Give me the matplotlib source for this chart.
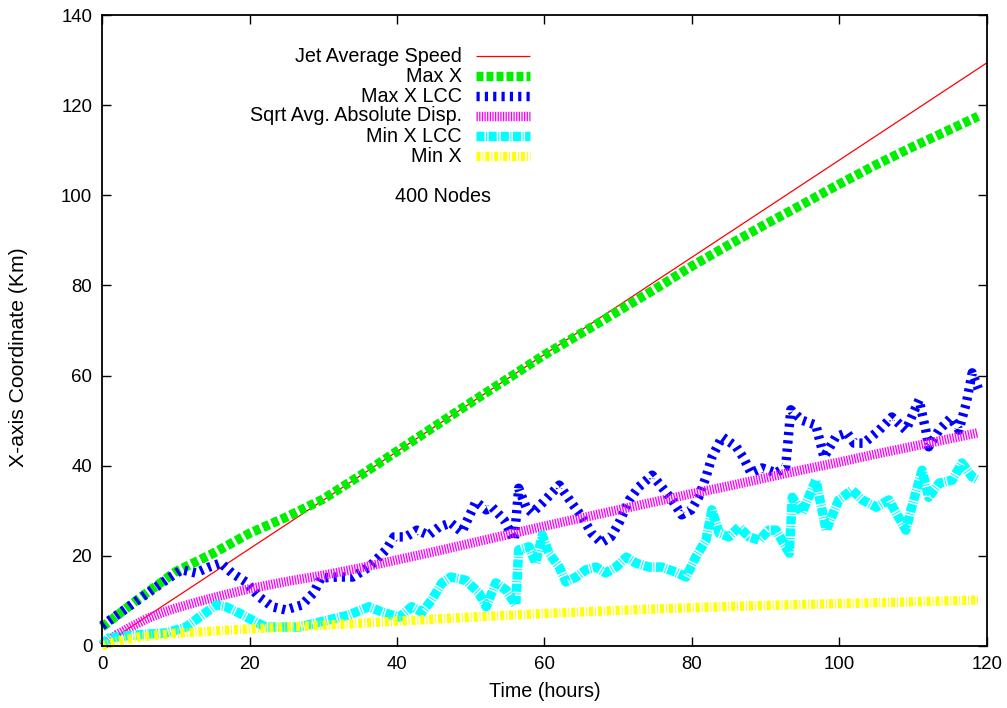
import matplotlib
matplotlib.use("Agg")
import matplotlib.pyplot as plt
from matplotlib.lines import Line2D

plt.rcParams['font.family'] = ['Liberation Sans', 'DejaVu Sans']
plt.rcParams['lines.scale_dashes'] = False

# ---- data -------------------------------------------------------------
jet_t = [0, 120]
jet_x = [0, 129.4]

maxx_t = [0, 5, 10, 15, 20, 25, 30, 35, 40, 45, 50, 55, 60, 65, 70, 75,
          80, 85, 90, 95, 100, 105, 110, 115, 118.8]
maxx_x = [4.2, 10.5, 16.5, 20.5, 25, 28.6, 32.6, 37.8, 43.2, 48.6, 54, 59.3,
          64.6, 69.4, 74.3, 79.2, 84.3, 89, 93.6, 98, 102.5, 106.8, 110.8,
          114.6, 117.5]

maxlcc_t = [0, 3, 6, 9, 10.8, 12.7, 14.5, 16.1, 17.6, 19.5, 21.3, 23.1, 24.9,
            27.1, 28.7, 29.7, 32, 34, 36.2, 38.5, 39.6, 41.2, 42.7, 44.3,
            45.7, 47.3, 48.8, 50.7, 52.1, 52.9, 54.5, 55.9, 56.5, 57.5, 58.3,
            59.7, 62, 63.7, 65.1, 66.4, 67.7, 69, 70.1, 71.5, 72.8, 74.6,
            75.9, 77.3, 78.6, 79.9, 80.9, 81.9, 82.7, 84.1, 86, 87, 88, 89.5,
            91.4, 92.7, 93.4, 94.9, 96.8, 97.9, 99.5, 101, 102, 103.3, 105.4,
            107.1, 109, 110.8, 111.7, 112.1, 113.5, 115.1, 116.2, 117.2, 118,
            118.9]
maxlcc_x = [4.5, 8, 11.5, 15, 16.9, 16.2, 17.5, 18.4, 16.2, 14.2, 10.9, 8.7,
            8, 9.1, 11.8, 15.1, 15.3, 15.3, 17.5, 21.3, 24.2, 24.2, 25.7,
            24.6, 26.4, 27.3, 25.3, 32, 30.2, 30.8, 28, 23.5, 35, 30.8, 29.5,
            31.7, 35.7, 31.7, 28.6, 25, 22.9, 24.2, 27.3, 32.4, 35.3, 37.9,
            35.3, 32.4, 29.1, 30.2, 33, 37.5, 41.9, 46.4, 44.2, 41.7, 38.4,
            39.5, 38.4, 39.7, 52.4, 50.1, 49, 41.9, 46.4, 47.3, 45, 45, 47.9,
            50.8, 47.9, 54.6, 47.9, 44.2, 47.9, 50.6, 47.9, 53.9, 60.6, 56.8]

disp_t = [0, 2, 4, 6, 8, 10, 13, 16, 20, 25, 30, 35, 40, 45, 50, 55, 60, 65,
          70, 75, 80, 85, 90, 95, 100, 105, 110, 115, 118.8]
disp_x = [0, 2.5, 4.3, 6.0, 7.3, 8.4, 9.8, 11.1, 12.7, 14.3, 15.7, 17.3,
          19.1, 20.9, 22.8, 24.7, 26.6, 28.4, 30.2, 32, 33.8, 35.5, 37.3,
          39.1, 40.8, 42.6, 44.3, 46, 47.3]

minlcc_t = [0, 1, 4, 8.7, 11.4, 13.2, 15.5, 16.8, 18.6, 20.3, 22.2, 24.4,
            26.7, 29, 30.8, 33.5, 36.2, 38, 40.3, 42, 43.4, 44.7, 46.1, 47.3,
            49.3, 51.1, 52.1, 53.4, 54.8, 56.1, 56.5, 57.9, 58.8, 59.7, 60.6,
            62, 62.9, 64.3, 65.6, 67, 68.3, 69.7, 71.1, 72.4, 74.2, 75.9,
            77.8, 79.2, 80.5, 81.9, 82.7, 83.7, 85, 86.4, 87.7, 89.1, 90.4,
            91.4, 93.2, 93.6, 94.9, 96.8, 98.2, 99.9, 101.7, 103.1, 105,
            106.7, 109, 109.8, 111.2, 112.1, 113.5, 115.3, 116.6, 118, 118.8]
minlcc_x = [0.3, 1.8, 2.4, 2.9, 4.2, 6.4, 9.1, 8.7, 7.3, 5.8, 4.2, 4.2, 4.2,
            5.1, 5.8, 6.9, 8.7, 7.5, 6.4, 8.7, 7.5, 10.2, 14, 15.3, 14.6,
            11.8, 8.7, 14, 12.4, 9.1, 21.3, 22, 18.4, 24.6, 20.6, 17.5, 14.2,
            15.3, 16.9, 17.5, 16.2, 17.5, 19.7, 18.4, 17.5, 17.5, 16.4, 15.3,
            19.7, 23.5, 30.2, 25, 24.2, 26.4, 24.2, 23.5, 25.7, 25.7, 20.6,
            33, 29.5, 36.8, 25.7, 32.4, 34.6, 32.4, 30.8, 32.4, 25.7, 30.8,
            39, 33, 36.1, 36.8, 40.6, 37.5, 36.8]

minx_t = [0, 2, 5, 10, 15, 20, 30, 40, 50, 60, 70, 80, 90, 100, 110, 118.8]
minx_x = [0, 1.0, 2.0, 2.8, 3.3, 3.8, 4.6, 5.5, 6.4, 7.2, 7.9, 8.5, 9.0,
          9.4, 9.8, 10.2]

x_ticks = [0, 20, 40, 60, 80, 100, 120]
y_ticks = [0, 20, 40, 60, 80, 100, 120, 140]

# ---- styles -----------------------------------------------------------
LW = 6.8
series = [
    ("Jet Average Speed", jet_t, jet_x,
     dict(color="#ff0000", lw=0.9, linestyle="-")),
    ("Max X", maxx_t, maxx_x,
     dict(color="#00ee00", lw=LW, dashes=(5.0, 2.2))),
    ("Max X LCC", maxlcc_t, maxlcc_x,
     dict(color="#0000ff", lw=LW, dashes=(2.3, 3.7))),
    ("Sqrt Avg. Absolute Disp.", disp_t, disp_x,
     dict(color="#ff00ff", lw=LW, dashes=(0.95, 0.95))),
    ("Min X LCC", minlcc_t, minlcc_x,
     dict(color="#00ffff", lw=LW, dashes=(5.8, 1.1, 0.75, 1.1))),
    ("Min X", minx_t, minx_x,
     dict(color="#ffff00", lw=LW, dashes=(2.9, 1.4, 0.7, 1.4))),
]

FS_TICK = 13.4
FS_TEXT = 14.2

fig = plt.figure(figsize=(10.07, 7.08), dpi=100)
ax = fig.add_axes([0.1013, 0.0876, 0.8788, 0.8912])

for label, t, v, st in series:
    ax.plot(t, v, solid_capstyle="butt", dash_capstyle="butt",
            clip_on=False, **st)

ax.set_xlim(0, 120)
ax.set_ylim(0, 140)
ax.set_xticks(x_ticks)
ax.set_yticks(y_ticks)
ax.tick_params(direction="in", length=6.5, width=1, top=True, right=True,
               labelsize=FS_TICK, pad=7)
for s in ax.spines.values():
    s.set_linewidth(1.3)

ax.set_xlabel("Time (hours)", fontsize=FS_TEXT, labelpad=7)
ax.set_ylabel("X-axis Coordinate (Km)", fontsize=FS_TEXT + 1.0)
ax.yaxis.set_label_coords(-0.0836, 0.458)

# key, text right-aligned with line samples to its right
text_right = 0.4068
line_x0, line_x1 = 0.4226, 0.4836
row_y = [0.935, 0.9033, 0.8716, 0.840, 0.808, 0.7765]
for (label, _, _, st), yy in zip(series, row_y):
    ax.text(text_right, yy, label, transform=ax.transAxes, ha="right",
            va="center", fontsize=FS_TEXT)
    ax.add_line(Line2D([line_x0, line_x1], [yy, yy], transform=ax.transAxes,
                       solid_capstyle="butt", dash_capstyle="butt", **st))

ax.text(0.385, 0.7116, "400 Nodes", transform=ax.transAxes, ha="center",
        va="center", fontsize=FS_TEXT)

fig.savefig("out.png", dpi=100)
